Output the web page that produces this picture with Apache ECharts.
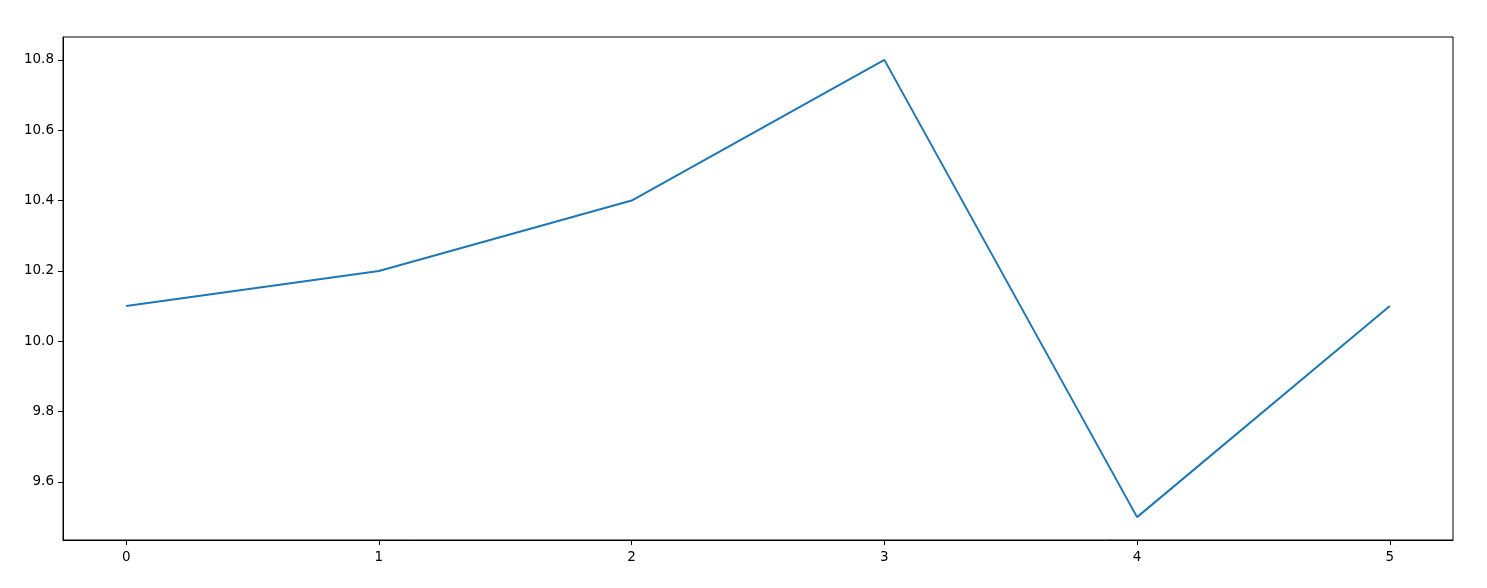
<!DOCTYPE html>
<html>
<head>
<meta charset="utf-8">
<script src="https://cdn.jsdelivr.net/npm/echarts@6/dist/echarts.min.js"></script>
<style>
  html, body { margin: 0; padding: 0; background: #fff; }
  #main { width: 1487px; height: 588px; }
</style>
</head>
<body>
<div id="main"></div>
<script>
var xValues = [0, 1, 2, 3, 4, 5];
var yValues = [10.1, 10.2, 10.4, 10.8, 9.5, 10.1];
var xTicks = [0, 1, 2, 3, 4, 5];
var yTicks = [9.6, 9.8, 10.0, 10.2, 10.4, 10.6, 10.8];

// matplotlib-style 5% margins
var xMin = -0.25, xMax = 5.25;
var yMin = 9.435, yMax = 10.865;

var points = xValues.map(function (x, i) { return [x, yValues[i]]; });

var myChart = echarts.init(document.getElementById('main'));
myChart.setOption({
    animation: false,
    grid: {
        left: 63, right: 34, top: 37, bottom: 48,
        show: true, borderColor: '#000', borderWidth: 1,
        backgroundColor: '#fff'
    },
    xAxis: {
        type: 'value',
        position: 'bottom',
        min: xMin, max: xMax,
        splitLine: { show: false },
        axisLine: { show: true, onZero: false, lineStyle: { color: '#000', width: 1 } },
        axisTick: { show: true, inside: false, customValues: xTicks, length: 5, lineStyle: { color: '#000', width: 1 } },
        axisLabel: {
            customValues: xTicks, color: '#000', fontSize: 13.5,
            fontFamily: 'DejaVu Sans', margin: 10
        }
    },
    yAxis: {
        type: 'value',
        position: 'left',
        min: yMin, max: yMax,
        splitLine: { show: false },
        axisLine: { show: true, onZero: false, lineStyle: { color: '#000', width: 1 } },
        axisTick: { show: true, inside: false, customValues: yTicks, length: 5, lineStyle: { color: '#000', width: 1 } },
        axisLabel: {
            customValues: yTicks, color: '#000', fontSize: 13.5,
            fontFamily: 'DejaVu Sans', margin: 9,
            formatter: function (v) { return v.toFixed(1); }
        }
    },
    series: [{
        type: 'line',
        data: points,
        symbol: 'none',
        lineStyle: { color: '#1f77b4', width: 2 }
    }]
});
</script>
</body>
</html>
